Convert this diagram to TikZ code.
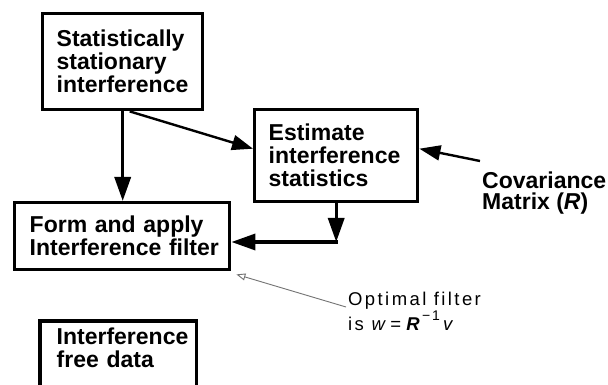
\documentclass[tikz,border=0pt]{standalone}
\usepackage{fontspec}
\setmainfont{Liberation Sans}
\newfontfamily\optfont[LetterSpace=13]{Liberation Sans}
\usetikzlibrary{arrows.meta}
\hyphenpenalty=10000
\exhyphenpenalty=10000
\begin{document}
\begin{tikzpicture}[x=1pt,y=1pt,
  boxline/.style={line width=3.4pt},
  box/.style={boxline, draw, rectangle, anchor=north west, align=left,
    inner xsep=15pt, inner ysep=0pt,
    font=\fontsize{23}{23}\selectfont\bfseries},
  flow/.style={line width=3.4pt, -{Triangle[length=24pt,width=16pt]}},
  thinflow/.style={line width=2.4pt, -{Triangle[length=21pt,width=15pt]}},
  note/.style={draw=black!55, line width=0.9pt, -{Triangle[open,length=9pt,width=7pt]}}
]
\clip (0,0) rectangle (608,385);
\fill[white] (0,0) rectangle (608,385);
\coordinate (bot) at (0,0);

\node[box, text width=132pt, inner xsep=14pt, minimum height=96pt] (b1) at (41,373)
  {Statistically\\stationary\\interference};
\node[box, text width=135pt, inner xsep=14pt, minimum height=92pt] (b2) at (253,277)
  {Estimate\\interference\\statistics};
\node[box, text width=195pt, inner xsep=10pt, minimum height=67pt] (b3) at (13,184)
  {\hspace*{5pt}Form and apply\\\hspace*{5pt}Interference filter};
\node[box, draw=none, text width=123pt, inner xsep=15pt, inner ysep=5pt] (b4) at (40,64)
  {Interference\\free data};
\draw[boxline] (b4.north west |- bot) -- (b4.north west) -- (b4.north east) -- (b4.north east |- bot);

\node[anchor=north west, inner sep=0pt, align=left,
  font=\fontsize{23}{21}\selectfont\bfseries] (cov) at (482,213)
  {Covariance\\Matrix (\textit{R})};
\node[anchor=north west, inner sep=0pt, align=left,
  font=\fontsize{18.5}{18}\selectfont\optfont] (opt) at (348,93)
  {Optimal filter\\is \textit{w}\hspace{2pt}=\hspace{3pt}\textbf{\textit{R}}\raisebox{0.55em}{\fontsize{14}{14}\selectfont −1}\,\textit{v}};

\coordinate (j) at (b2.south |- 0,143);
\draw[flow] (b1.south) -- (b1.south |- b3.north);
\draw[thinflow] ([xshift=7pt]b1.south) -- ([yshift=7pt]b2.west);
\draw[flow] (b2.south) -- (j);
\draw[flow] ([xshift=1.7pt]j) -- (b3.east |- j);
\draw[thinflow] ([shift={(-2pt,11pt)}]cov.north west) -- ([yshift=7pt]b2.east);
\draw[note] ([shift={(-2pt,-15pt)}]opt.north west) -- ([shift={(5pt,-3pt)}]b3.south east);
\end{tikzpicture}
\end{document}
